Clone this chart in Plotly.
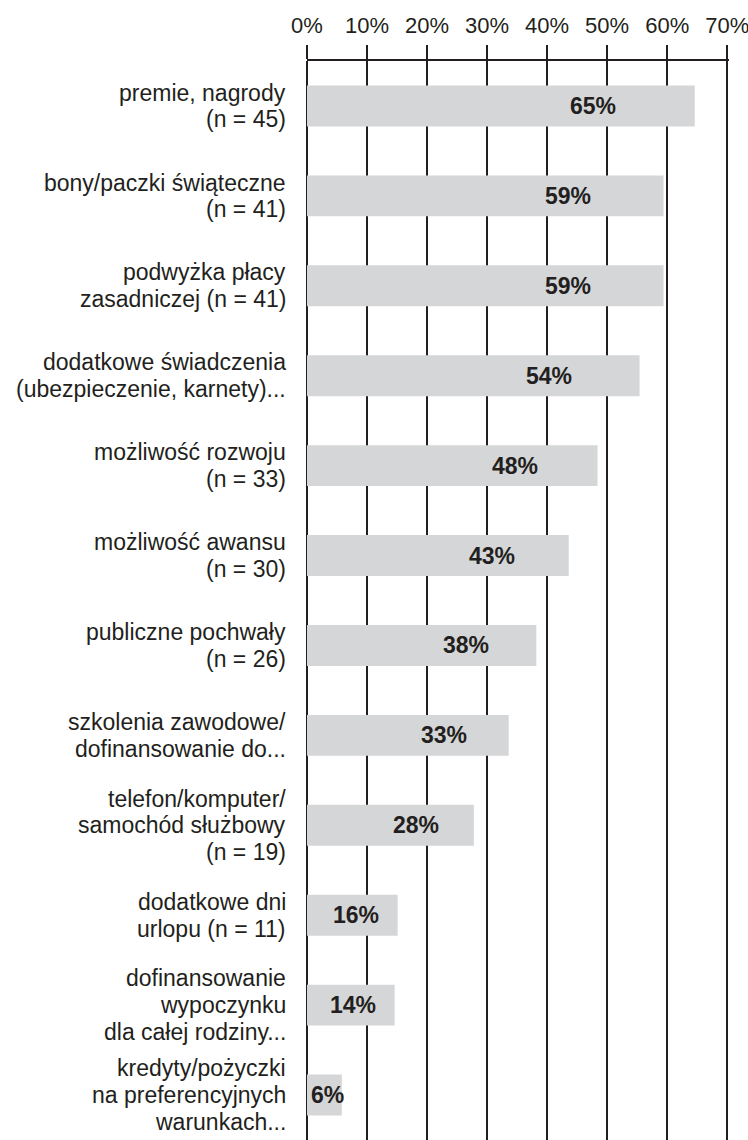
import plotly.graph_objects as go

categories = [
    "premie, nagrody<br>(n = 45)",
    "bony/paczki świąteczne<br>(n = 41)",
    "podwyżka płacy<br>zasadniczej (n = 41)",
    "dodatkowe świadczenia<br>(ubezpieczenie, karnety)...",
    "możliwość rozwoju<br>(n = 33)",
    "możliwość awansu<br>(n = 30)",
    "publiczne pochwały<br>(n = 26)",
    "szkolenia zawodowe/<br>dofinansowanie do...",
    "telefon/komputer/<br>samochód służbowy<br>(n = 19)",
    "dodatkowe dni<br>urlopu (n = 11)",
    "dofinansowanie<br>wypoczynku<br>dla całej rodziny...",
    "kredyty/pożyczki<br>na preferencyjnych<br>warunkach...",
]
values = [64.6, 59.4, 59.4, 55.4, 48.4, 43.6, 38.2, 33.6, 27.8, 15.1, 14.6, 5.8]
value_labels = ["65%", "59%", "59%", "54%", "48%", "43%", "38%", "33%", "28%", "16%", "14%", "6%"]
tick_vals = [0, 10, 20, 30, 40, 50, 60, 70]
tick_text = ["0%", "10%", "20%", "30%", "40%", "50%", "60%", "70%"]

INK = "#231f20"
FONT = "Liberation Sans, Arial, sans-serif"
LINE_STEP = 26.7  # px between lines of a category label

pos = list(range(len(categories)))

fig = go.Figure(
    go.Bar(
        x=values,
        y=pos,
        orientation="h",
        marker=dict(color="#d5d6d8", line=dict(width=0)),
        hoverinfo="skip",
    )
)

annotations = []
# value labels inside the bars
for i, (v, t) in enumerate(zip(values, value_labels)):
    cx = 0.8 * v - 4
    if cx < 4:
        annotations.append(dict(x=0.4, y=i, text="<b>" + t + "</b>", xanchor="left",
                                showarrow=False, font=dict(family=FONT, size=23, color=INK)))
    else:
        annotations.append(dict(x=cx, y=i, text="<b>" + t + "</b>", xanchor="center",
                                showarrow=False, font=dict(family=FONT, size=23, color=INK)))

# category labels, one annotation per line for tighter line spacing
for i, cat in enumerate(categories):
    lines = cat.split("<br>")
    n = len(lines)
    for j, line in enumerate(lines):
        annotations.append(dict(
            xref="paper", x=0, xanchor="right", xshift=-19,
            yref="y", y=i, yanchor="middle",
            yshift=((n - 1) / 2 - j) * LINE_STEP,
            text=line, showarrow=False, align="right",
            font=dict(family=FONT, size=23, color=INK),
        ))

fig.update_layout(
    width=748,
    height=1140,
    margin=dict(l=307, r=19, t=61, b=0),
    paper_bgcolor="white",
    plot_bgcolor="white",
    bargap=0.545,
    showlegend=False,
    annotations=annotations,
    xaxis=dict(
        side="top",
        range=[0, 70.3],
        tickvals=tick_vals,
        ticktext=tick_text,
        tickfont=dict(family=FONT, size=22, color=INK),
        ticklabeloverflow="allow",
        ticklabelstandoff=3,
        ticks="outside",
        ticklen=14,
        tickwidth=2,
        tickcolor=INK,
        showline=True,
        linecolor=INK,
        linewidth=2,
        showgrid=True,
        gridcolor=INK,
        gridwidth=2,
        zeroline=True,
        zerolinecolor=INK,
        zerolinewidth=2,
        fixedrange=True,
    ),
    yaxis=dict(
        range=[len(categories) - 0.5, -0.5],
        tickvals=pos,
        showticklabels=False,
        ticks="",
        showgrid=False,
        zeroline=False,
        showline=False,
        fixedrange=True,
    ),
)

fig.write_html("out.html")
